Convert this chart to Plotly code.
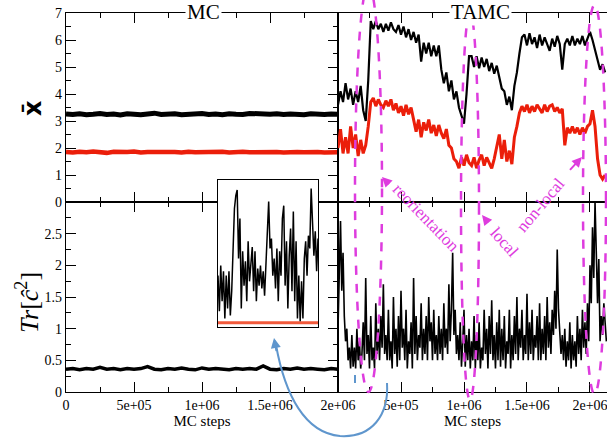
import numpy as np
import plotly.graph_objects as go

# ---------------- data ----------------
mc_steps_max = 2.0e6
mc_xbar_black = [3.26, 3.24, 3.27, 3.23, 3.25, 3.28, 3.24, 3.26, 3.22, 3.27, 3.25, 3.23, 3.26, 3.29,
                 3.24, 3.25, 3.27, 3.23, 3.26, 3.25, 3.28, 3.24, 3.26, 3.23, 3.27, 3.25, 3.24, 3.28,
                 3.26, 3.23, 3.25, 3.27, 3.24, 3.26, 3.25, 3.23, 3.27, 3.25, 3.24, 3.26, 3.25]
mc_xbar_red = [1.85, 1.83, 1.86, 1.84, 1.87, 1.85, 1.82, 1.86, 1.84, 1.85, 1.87, 1.83, 1.85, 1.86,
               1.84, 1.88, 1.85, 1.83, 1.86, 1.84, 1.85, 1.87, 1.84, 1.86, 1.83, 1.85, 1.86, 1.84,
               1.85, 1.87, 1.84, 1.85, 1.83, 1.86, 1.85, 1.84, 1.86, 1.85, 1.83, 1.85, 1.84]
mc_tr = [0.36, 0.37, 0.35, 0.37, 0.36, 0.39, 0.36, 0.37, 0.35, 0.37, 0.36, 0.37, 0.40, 0.36,
         0.35, 0.37, 0.36, 0.38, 0.36, 0.35, 0.38, 0.36, 0.37, 0.36, 0.35, 0.37, 0.36, 0.37,
         0.36, 0.41, 0.36, 0.35, 0.37, 0.36, 0.38, 0.36, 0.37, 0.36, 0.35, 0.37, 0.36]

tamc_step = 2.0e4
tamc_xbar_black = [3.6, 4.1, 3.7, 4.4, 3.8, 4.2, 3.6, 4.1, 3.7, 4.3, 3.4, 3.0, 4.5,
                   6.7, 6.4, 6.7, 6.4, 6.6, 6.3, 6.6, 6.35, 6.65, 6.4, 6.3, 6.55,
                   6.2, 6.5, 6.1, 6.4, 6.0, 6.3, 5.9, 6.2,
                   5.2, 5.9, 5.5, 5.9, 5.4, 5.8, 5.4, 5.8,
                   4.9, 4.4, 4.8, 4.1, 4.5, 3.8, 4.1, 3.5,
                   3.2, 2.9, 4.0, 5.4,
                   5.4, 5.0, 5.4, 4.95, 5.35, 5.0, 5.3, 4.85, 5.15, 4.75, 5.05,
                   4.6, 4.2, 4.1, 3.6, 3.9, 3.4,
                   4.3, 4.8, 5.5, 6.1,
                   6.2, 5.8, 6.25, 5.85, 6.1, 5.7, 6.2, 5.8, 6.1, 5.85, 5.6, 6.05, 5.75, 6.15, 5.85,
                   4.9,
                   5.85, 6.05, 5.8, 6.15, 5.8, 6.05, 5.85, 6.15, 5.8, 6.05,
                   6.3, 6.0, 5.6, 5.3, 4.9, 5.1, 4.8]
tamc_xbar_red = [2.0, 2.7, 1.8, 2.4, 1.8, 2.8, 2.0, 2.5, 1.7, 2.3, 1.8, 2.1, 2.8,
                 3.7,
                 3.85, 3.55, 3.8, 3.6, 3.5, 3.75, 3.55, 3.8, 3.4, 3.65, 3.3, 3.55, 3.2, 3.6, 3.25, 3.5, 3.05,
                 2.6, 3.05, 2.4, 2.95, 2.65, 3.05, 2.55, 2.85, 2.45, 2.85, 2.55, 2.35, 2.7, 2.1, 2.0, 1.6,
                 1.5, 1.25, 1.65, 1.35, 1.75, 1.45, 1.35, 1.65, 1.25, 1.55, 1.75, 1.35, 1.65, 1.45, 1.25, 1.6,
                 2.0, 2.5, 1.6, 2.3, 1.5, 1.9, 1.4, 2.4,
                 2.8, 3.3,
                 3.55, 3.35, 3.6, 3.3, 3.55, 3.35, 3.6, 3.45, 3.3, 3.6, 3.35, 3.55, 3.6, 3.35, 3.5, 3.3, 3.45,
                 2.1,
                 2.75, 2.55, 2.8, 2.55, 2.75, 2.5, 2.75, 2.55, 2.8,
                 2.9, 3.4, 2.8, 1.6, 1.0, 0.85, 1.0]
tamc_tr_step = 1.0e4
tamc_tr = [1.0, 2.0, 2.7, 1.6, 2.2, 1.2, 0.8, 1.0, 0.5, 0.7,
           0.37, 0.9, 0.4, 0.7, 0.37, 1.0, 0.5, 0.8, 0.37, 0.6,
           1.1, 0.5, 1.8, 0.6, 0.9, 0.37, 1.2, 0.5, 0.7, 0.37,
           1.4, 0.6, 1.0, 0.5, 1.2, 0.7, 1.7, 0.6, 0.9, 0.5,
           1.3, 0.5, 0.8, 0.37, 1.5, 0.6, 1.0, 0.4, 1.2, 0.5,
           1.6, 0.7, 1.0, 0.5, 1.3, 0.37, 0.8, 0.6, 1.1, 0.37,
           1.8, 0.6, 1.2, 0.5, 0.9, 0.7, 1.4, 0.5, 1.0, 0.6,
           1.2, 0.5, 1.5, 0.8, 1.1, 0.5, 1.3, 0.6, 0.9, 0.5,
           1.2, 0.6, 1.0, 0.5, 1.4, 0.7, 1.0, 0.6, 1.7, 0.8,
           1.3, 2.2, 0.9, 1.3, 0.6, 0.9, 0.5, 1.1, 0.4, 0.8,
           1.3, 0.4, 0.9, 0.5, 1.0, 0.37, 0.8, 0.5, 1.2, 0.37,
           0.9, 0.5, 1.1, 0.37, 0.7, 0.5, 1.3, 0.6, 1.0, 0.37,
           1.2, 0.6, 1.45, 0.5, 0.9, 0.37, 1.1, 0.5, 1.3, 0.4,
           1.0, 0.5, 1.2, 0.37, 0.8, 0.6, 1.3, 0.37, 0.9, 0.5,
           1.2, 0.6, 1.5, 0.5, 1.0, 0.7, 1.3, 0.5, 0.9, 0.6,
           1.55, 0.5, 1.1, 0.6, 1.3, 0.5, 0.9, 0.7, 1.2, 0.5,
           1.4, 0.5, 1.0, 0.6, 1.2, 0.5, 1.5, 0.7, 1.1, 0.6,
           1.3, 0.9, 1.6, 1.0, 2.25, 1.3, 1.0, 0.6, 0.9, 0.5,
           1.0, 0.4, 0.8, 0.5, 1.1, 0.37, 0.9, 0.5, 0.8, 0.4,
           1.2, 0.6, 1.0, 0.5, 1.3, 0.7, 1.1, 0.6, 1.4, 0.8,
           2.0, 1.4, 2.6, 1.8, 3.0, 2.2, 1.4, 2.1, 0.8, 1.2,
           0.9, 1.4, 1.1, 0.8]
inset_tr = [0.33, 0.08, 0.40, 0.15, 0.36, 0.03, 0.33, 0.10, 0.36, 0.05, 0.22, 0.61, 0.80, 0.89,
            0.93, 0.45, 0.73, 0.10, 0.50, 0.26, 0.43, 0.15, 0.57, 0.29, 0.43, 0.53, 0.22, 0.50,
            0.15, 0.38, 0.26, 0.40, 0.24, 0.36, 0.19, 0.43, 0.68, 0.85, 0.52, 0.59, 0.33, 0.45,
            0.24, 0.52, 0.15, 0.50, 0.33, 0.73, 0.82, 0.26, 0.57, 0.10, 0.47, 0.66, 0.22, 0.78,
            0.15, 0.57, 0.03, 0.33, 0.01, 0.29, 0.03, 0.45, 0.57, 0.33, 0.61, 0.52, 0.94, 0.68,
            0.47, 0.64, 0.36, 0.59]
inset_baseline = [0.0, 0.0]

mc_ticks = [0, 5e5, 1e6, 1.5e6, 2e6]
mc_ticktext = ["0", "5e+05", "1e+06", "1.5e+06", "2e+06"]
tamc_ticks = [5e5, 1e6, 1.5e6, 2e6]
tamc_ticktext = ["5e+05", "1e+06", "1.5e+06", "2e+06"]

# ---------------- layout helpers ----------------
W, H = 607, 440
ML, MR, MT, MB = 66, 0, 13, 48
PW, PH = W - ML - MR, H - MT - MB
SERIF = "Liberation Serif"
MAG = "rgb(222,60,222)"
BLUE = "rgb(95,150,205)"
RED = "rgb(235,30,10)"


def P(px, py):
    return (px - ML) / PW, (H - MB - py) / PH


XS = P(338, 0)[0]
YS = P(0, 202)[1]

mc_x = np.linspace(0, mc_steps_max, len(mc_xbar_black))
mc_x_tr = np.linspace(0, mc_steps_max, len(mc_tr))
tamc_x = np.arange(len(tamc_xbar_black)) * tamc_step
tamc_x_red = np.arange(len(tamc_xbar_red)) * tamc_step
tamc_x_tr = np.arange(len(tamc_tr)) * tamc_tr_step
ins_x = np.arange(len(inset_tr))
ins_range_x = [0, len(inset_tr) - 1]
ins_range_y = [-0.03, 1.0]

fig = go.Figure()
fig.add_trace(go.Scatter(x=mc_x, y=mc_xbar_black, mode="lines", line=dict(color="black", width=5), xaxis="x", yaxis="y"))
fig.add_trace(go.Scatter(x=mc_x, y=mc_xbar_red, mode="lines", line=dict(color=RED, width=4.5), xaxis="x", yaxis="y"))
fig.add_trace(go.Scatter(x=tamc_x, y=tamc_xbar_black, mode="lines", line=dict(color="black", width=2.2), xaxis="x2", yaxis="y2"))
fig.add_trace(go.Scatter(x=tamc_x_red, y=tamc_xbar_red, mode="lines", line=dict(color=RED, width=3), xaxis="x2", yaxis="y2"))
fig.add_trace(go.Scatter(x=mc_x_tr, y=mc_tr, mode="lines", line=dict(color="black", width=3.5), xaxis="x3", yaxis="y3"))
fig.add_trace(go.Scatter(x=tamc_x_tr, y=tamc_tr, mode="lines", line=dict(color="black", width=1.6), xaxis="x4", yaxis="y4"))
# inset: white background, baseline, data
fig.add_trace(go.Scatter(x=[ins_range_x[0], ins_range_x[1], ins_range_x[1], ins_range_x[0], ins_range_x[0]],
                         y=[ins_range_y[0], ins_range_y[0], ins_range_y[1], ins_range_y[1], ins_range_y[0]],
                         fill="toself", fillcolor="white", mode="lines", line=dict(width=0, color="white"),
                         hoverinfo="skip", xaxis="x5", yaxis="y5"))
fig.add_trace(go.Scatter(x=[ins_range_x[0], ins_range_x[1]], y=inset_baseline, mode="lines",
                         line=dict(color="rgb(242,90,60)", width=3), xaxis="x5", yaxis="y5"))
fig.add_trace(go.Scatter(x=ins_x, y=inset_tr, mode="lines", line=dict(color="black", width=1.5), xaxis="x5", yaxis="y5"))

base = dict(showline=True, linecolor="black", linewidth=1.2, ticks="inside", ticklen=10, tickwidth=1,
            tickcolor="black", mirror="ticks", showgrid=False, zeroline=False, automargin=False,
            ticklabeloverflow="allow",
            tickfont=dict(family=SERIF, size=14, color="black"))
mc_minor = dict(ticks="inside", ticklen=5, tickcolor="black", tickvals=[2.5e5, 7.5e5, 1.25e6, 1.75e6])
tamc_minor = dict(ticks="inside", ticklen=5, tickcolor="black", tickvals=[2.5e5, 7.5e5, 1.25e6, 1.75e6])
xtitle = dict(text="MC steps", font=dict(family=SERIF, size=15, color="black"), standoff=1)

fig.update_layout(
    width=W, height=H, margin=dict(l=ML, r=MR, t=MT, b=MB, autoexpand=False), showlegend=False,
    paper_bgcolor="white", plot_bgcolor="white",
    xaxis=dict(base, domain=[0, XS], range=[0, 2e6], anchor="y", tickvals=mc_ticks, showticklabels=False, minor=mc_minor),
    yaxis=dict(base, domain=[YS, 1], range=[0, 7], anchor="x", tickvals=[0, 1, 2, 3, 4, 5, 6, 7],
               minor=dict(ticks="inside", ticklen=5, tickcolor="black", tickvals=[0.5, 1.5, 2.5, 3.5, 4.5, 5.5, 6.5])),
    xaxis2=dict(base, domain=[XS, 1], range=[0, 2.135e6], anchor="y2", tickvals=[0] + tamc_ticks, showticklabels=False, minor=tamc_minor),
    yaxis2=dict(base, domain=[YS, 1], range=[0, 7], anchor="x2", showticklabels=False, ticks="", mirror=False),
    xaxis3=dict(base, domain=[0, XS], range=[0, 2e6], anchor="y3", tickvals=mc_ticks, ticktext=mc_ticktext, minor=mc_minor, title=xtitle),
    yaxis3=dict(base, domain=[0, YS], range=[0, 3], anchor="x3", tickvals=[0, 0.5, 1, 1.5, 2, 2.5],
                ticktext=["0", "0.5", "1", "1.5", "2", "2.5"],
                minor=dict(ticks="inside", ticklen=5, tickcolor="black", tickvals=[0.25, 0.75, 1.25, 1.75, 2.25, 2.75])),
    xaxis4=dict(base, domain=[XS, 1], range=[0, 2.135e6], anchor="y4", tickvals=tamc_ticks, ticktext=tamc_ticktext, minor=tamc_minor, title=xtitle),
    yaxis4=dict(base, domain=[0, YS], range=[0, 3], anchor="x4", showticklabels=False, ticks="", mirror=False),
    xaxis5=dict(domain=[P(218, 0)[0], P(318, 0)[0]], range=ins_range_x, anchor="y5", showline=True, mirror=True, automargin=False,
                linecolor="black", linewidth=1.2, ticks="", showticklabels=False, showgrid=False, zeroline=False),
    yaxis5=dict(domain=[P(0, 327)[1], P(0, 180)[1]], range=ins_range_y, anchor="x5", showline=True, mirror=True, automargin=False,
                linecolor="black", linewidth=1.2, ticks="", showticklabels=False, showgrid=False, zeroline=False),
)

ann = []
# panel titles
for txt, px in (("MC", 203), ("TAMC", 480)):
    x, y = P(px, 12)
    ann.append(dict(text=txt, x=x, y=y, xref="paper", yref="paper", showarrow=False, bgcolor="white",
                    font=dict(family=SERIF, size=21, color="black"), xanchor="center", yanchor="middle", borderpad=1))
# y titles
x, y = P(33, 108)
ann.append(dict(text="<b>x\u0304</b>", x=x, y=y, xref="paper", yref="paper", showarrow=False, textangle=-90,
                font=dict(family="DejaVu Sans", size=24, color="black"), xanchor="center", yanchor="middle"))
x, y = P(27, 303)
ann.append(dict(text="<i>Tr</i>[<i>\u0109</i><sup>2</sup>]", x=x, y=y, xref="paper", yref="paper", showarrow=False,
                textangle=-90, font=dict(family=SERIF, size=26, color="black"), xanchor="center", yanchor="middle"))
# magenta labels
for txt, (px, py), ang in (("reorientation", (426, 217), 46), ("local", (505, 242), 48), ("non-local", (540, 205), -50)):
    x, y = P(px, py)
    ann.append(dict(text=txt, x=x, y=y, xref="paper", yref="paper", showarrow=False, textangle=ang,
                    font=dict(family=SERIF, size=17, color=MAG), xanchor="center", yanchor="middle"))
for (tx, ty), (hx, hy) in (((391, 186), (382, 177)), ((490, 225), (482, 215)), ((568, 172), (582, 157))):
    x, y = P(hx, hy)
    ann.append(dict(text=" ", x=x, y=y, xref="paper", yref="paper", showarrow=True, ax=tx - hx, ay=ty - hy,
                    arrowhead=2, arrowsize=1, arrowwidth=2, arrowcolor=MAG, standoff=0, font=dict(size=2)))
# blue curved arrow head
x, y = P(274, 338)
ann.append(dict(text=" ", x=x, y=y, xref="paper", yref="paper", showarrow=True, ax=3, ay=16,
                arrowhead=2, arrowsize=1, arrowwidth=2, arrowcolor=BLUE, standoff=0, font=dict(size=2)))
fig.update_layout(annotations=ann)


def path(cmds):
    out = []
    for c, pts in cmds:
        out.append(c + " " + " ".join("%.5f,%.5f" % P(*p) for p in pts))
    return " ".join(out)


shapes = []
for (x0, y0, x1, y1) in ((355, -15, 382, 392), (461, 12, 479, 400), (583, 5, 606, 394)):
    a, b = P(x0, y1)
    c, d = P(x1, y0)
    shapes.append(dict(type="circle", xref="paper", yref="paper", x0=a, y0=b, x1=c, y1=d,
                       line=dict(color=MAG, width=2.5, dash="dash"), layer="above"))
shapes.append(dict(type="path", xref="paper", yref="paper",
                   path=path([("M", [(355, 375)]), ("L", [(355, 383), (418, 383), (418, 375)])]),
                   line=dict(color=BLUE, width=2)))
shapes.append(dict(type="path", xref="paper", yref="paper",
                   path=path([("M", [(387, 383)]), ("C", [(389, 415), (372, 438), (340, 436)]),
                              ("C", [(305, 433), (285, 395), (276, 345)])]),
                   line=dict(color=BLUE, width=2)))
fig.update_layout(shapes=shapes)

fig.write_html("out.html")
